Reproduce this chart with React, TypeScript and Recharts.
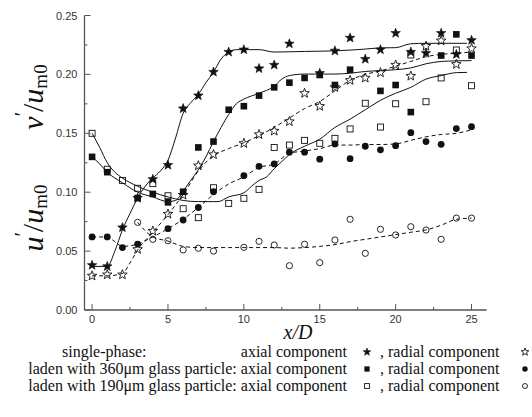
import React from "react";
import { ComposedChart, Line, Scatter, XAxis, YAxis } from "recharts";

// x/D stations
const xD = [0, 1, 2, 3, 4, 5, 6, 7, 8, 9, 10, 11, 12, 13, 14, 15, 16, 17, 18, 19, 20, 21, 22, 23, 24, 25];

// measured points (null = not visible)
const singleAxial = [0.038, 0.037, 0.070, 0.095, 0.111, 0.123, 0.171, 0.182, 0.202, 0.219, 0.221, 0.205, 0.208, 0.226, null, 0.201, 0.220, 0.231, 0.213, 0.221, 0.235, 0.219, 0.218, 0.235, 0.217, 0.229];
const singleRadial = [0.029, 0.030, 0.030, 0.0515, 0.067, 0.0815, 0.0976, 0.1225, 0.132, null, 0.1415, 0.149, 0.152, 0.160, 0.184, 0.173, 0.189, 0.195, 0.197, 0.2015, 0.208, 0.1986, 0.224, 0.2286, 0.2086, 0.222];
const p360Axial = [0.130, 0.117, null, 0.095, 0.0985, 0.0914, 0.1004, 0.138, 0.143, 0.170, 0.173, 0.182, 0.189, 0.193, 0.197, 0.1995, 0.191, 0.204, null, 0.186, 0.191, 0.168, null, 0.216, 0.234, 0.216];
const p360Radial = [0.062, 0.062, 0.053, 0.056, null, 0.069, 0.0764, 0.087, 0.1004, null, 0.114, 0.122, 0.124, 0.134, 0.134, 0.128, 0.141, 0.1285, 0.139, 0.136, 0.1395, 0.1505, 0.143, 0.1406, 0.154, 0.1556];
const p190Axial = [0.150, 0.1195, 0.110, 0.1033, 0.1073, 0.097, 0.086, 0.0784, 0.1038, 0.0905, 0.0948, 0.1024, 0.138, 0.140, 0.144, 0.1415, 0.1457, 0.1537, 0.1755, 0.1553, 0.1751, 0.2165, 0.1768, 0.197, 0.2207, 0.1904];
const p190Radial = [null, null, null, 0.0744, 0.060, 0.0588, 0.051, 0.0524, 0.050, null, 0.0532, 0.0583, 0.0552, 0.0376, 0.0558, 0.0402, 0.0594, 0.077, 0.0481, 0.0685, 0.0637, 0.0707, 0.0679, 0.060, 0.078, 0.078];

// fitted curves
const singleAxialFitX = [0, 1, 1.5, 2, 2.5, 3, 3.5, 4, 4.5, 5, 5.5, 6, 6.5, 7, 7.5, 8, 8.5, 9, 9.5, 10, 11, 12, 14, 16, 18, 19, 20, 21, 22, 24.7];
const singleAxialFit = [0.037, 0.037, 0.05, 0.068, 0.082, 0.095, 0.105, 0.112, 0.118, 0.127, 0.146, 0.167, 0.176, 0.183, 0.193, 0.202, 0.213, 0.219, 0.221, 0.221, 0.221, 0.219, 0.2195, 0.22, 0.2215, 0.2225, 0.2227, 0.226, 0.2264, 0.2264];
const singleRadialFitX = [0, 1, 2, 2.5, 3, 4, 5, 6, 7, 8, 9, 10, 11, 12, 13, 14, 15, 16, 17, 18, 19, 20, 21, 22, 23, 24, 25];
const singleRadialFit = [0.029, 0.029, 0.031, 0.04, 0.051, 0.066, 0.081, 0.098, 0.118, 0.131, 0.137, 0.142, 0.148, 0.155, 0.163, 0.171, 0.177, 0.186, 0.195, 0.2, 0.203, 0.207, 0.211, 0.215, 0.217, 0.218, 0.219];
const p360AxialFitX = [0, 0.5, 1, 2, 3, 4, 5, 5.5, 6, 6.5, 7, 7.5, 8, 8.5, 9, 9.5, 10, 11, 12, 12.5, 13, 14, 15, 16, 17, 18, 19, 20, 21, 22, 23, 24, 25];
const p360AxialFit = [0.13, 0.124, 0.117, 0.108, 0.1, 0.096, 0.092, 0.093, 0.101, 0.11, 0.119, 0.13, 0.143, 0.155, 0.166, 0.175, 0.179, 0.184, 0.19, 0.196, 0.199, 0.2003, 0.2003, 0.2003, 0.201, 0.2025, 0.2032, 0.204, 0.2055, 0.209, 0.211, 0.2115, 0.2117];
const p360RadialFitX = [0, 1, 1.5, 2, 3, 4, 5, 6, 7, 8, 9, 10, 11, 12, 13, 14, 15, 16, 17, 18, 19, 20, 21, 22, 23, 24, 25];
const p360RadialFit = [0.062, 0.062, 0.058, 0.054, 0.056, 0.062, 0.069, 0.077, 0.087, 0.098, 0.107, 0.113, 0.121, 0.124, 0.133, 0.135, 0.137, 0.14, 0.14, 0.1405, 0.1405, 0.141, 0.144, 0.147, 0.149, 0.15, 0.153];
const p190AxialFitX = [0, 0.5, 1, 1.5, 2, 3, 4, 5, 6, 7, 8, 8.3, 9, 10, 10.5, 11, 11.5, 12, 12.5, 13, 14, 15, 16, 17, 18, 19, 20, 21, 22, 23, 24, 24.7];
const p190AxialFit = [0.15, 0.138, 0.125, 0.117, 0.112, 0.105, 0.1, 0.096, 0.093, 0.092, 0.092, 0.092, 0.096, 0.0995, 0.105, 0.11, 0.113, 0.12, 0.126, 0.132, 0.139, 0.145, 0.155, 0.162, 0.17, 0.178, 0.184, 0.189, 0.196, 0.199, 0.2015, 0.2017];
const p190RadialFitX = [3, 4, 5, 6, 7, 8, 9, 10, 11, 12, 13, 14, 15, 16, 17, 18, 19, 20, 21, 22, 23, 24, 25];
const p190RadialFit = [0.0744, 0.062, 0.0585, 0.054, 0.053, 0.053, 0.053, 0.053, 0.053, 0.053, 0.0525, 0.053, 0.054, 0.0555, 0.058, 0.06, 0.062, 0.064, 0.066, 0.068, 0.072, 0.077, 0.078];

const xTicks = [0, 2.5, 5, 7.5, 10, 12.5, 15, 17.5, 20, 22.5, 25];
const yTicks = [0, 0.025, 0.05, 0.075, 0.1, 0.125, 0.15, 0.175, 0.2, 0.225, 0.25];

const legendRows = [
  { label: "single-phase:", axial: "axial component", kinds: ["star", "ostar"] },
  { label: "laden with 360\u03bcm glass particle:", axial: "axial component", kinds: ["square", "circle"] },
  { label: "laden with 190\u03bcm glass particle:", axial: "axial component", kinds: ["osquare", "ocircle"] },
];

const toPts = (xs: number[], ys: (number | null)[]) =>
  xs.map((x, i) => ({ x, y: ys[i] })).filter((p) => p.y != null);

const INK = "#111";
const AXIS = "#555";
const SANS = "Liberation Sans, Arial, sans-serif";
const SERIF = "Liberation Serif, Times New Roman, serif";
const TICK_MARGIN = 8;

function starPoints(cx: number, cy: number, r: number) {
  const pts: string[] = [];
  for (let i = 0; i < 10; i++) {
    const rad = i % 2 === 0 ? r : r * 0.42;
    const a = -Math.PI / 2 + (i * Math.PI) / 5;
    pts.push(`${cx + rad * Math.cos(a)},${cy + rad * Math.sin(a)}`);
  }
  return pts.join(" ");
}

function Marker({ kind, cx, cy, s = 1 }: { kind: string; cx: number; cy: number; s?: number }) {
  switch (kind) {
    case "star":
      return <polygon points={starPoints(cx, cy, 5 * s)} fill={INK} stroke={INK} strokeWidth={0.6} />;
    case "ostar":
      return <polygon points={starPoints(cx, cy, 5 * s)} fill="none" stroke={INK} strokeWidth={0.9} />;
    case "square":
      return <rect x={cx - 3.3 * s} y={cy - 3.3 * s} width={6.6 * s} height={6.6 * s} fill={INK} />;
    case "osquare":
      return <rect x={cx - 3 * s} y={cy - 3 * s} width={6 * s} height={6 * s} fill="none" stroke={INK} strokeWidth={0.9} />;
    case "circle":
      return <circle cx={cx} cy={cy} r={3.4 * s} fill={INK} />;
    default:
      return <circle cx={cx} cy={cy} r={3.1 * s} fill="none" stroke={INK} strokeWidth={0.9} />;
  }
}

const XTick = (props: any) => {
  const { x, y, payload } = props;
  const v = payload.value as number;
  const major = v % 5 === 0;
  const axisY = y - TICK_MARGIN;
  return (
    <g>
      <line x1={x} x2={x} y1={axisY} y2={axisY - (major ? 6 : 3)} stroke={AXIS} strokeWidth={1} />
      {major && (
        <text x={x} y={axisY + 12.5} textAnchor="middle" fontFamily={SANS} fontSize={11} fill="#333">
          {v}
        </text>
      )}
    </g>
  );
};

const YTick = (props: any) => {
  const { x, y, payload } = props;
  const v = payload.value as number;
  const major = Math.round(v * 1000) % 50 === 0;
  const axisX = x + TICK_MARGIN;
  return (
    <g>
      <line x1={axisX} x2={axisX + (major ? 6 : 3)} y1={y} y2={y} stroke={AXIS} strokeWidth={1} />
      {major && (
        <text x={axisX - 7} y={y + 4} textAnchor="end" fontFamily={SANS} fontSize={11} fill="#333">
          {v.toFixed(2)}
        </text>
      )}
    </g>
  );
};

const fits = [
  { xs: singleAxialFitX, ys: singleAxialFit, dash: undefined },
  { xs: singleRadialFitX, ys: singleRadialFit, dash: "4 3" },
  { xs: p360AxialFitX, ys: p360AxialFit, dash: undefined },
  { xs: p360RadialFitX, ys: p360RadialFit, dash: "4 3" },
  { xs: p190AxialFitX, ys: p190AxialFit, dash: undefined },
  { xs: p190RadialFitX, ys: p190RadialFit, dash: "4 3" },
];

const pointSets = [
  { ys: singleAxial, kind: "star" },
  { ys: singleRadial, kind: "ostar" },
  { ys: p360Axial, kind: "square" },
  { ys: p360Radial, kind: "circle" },
  { ys: p190Axial, kind: "osquare" },
  { ys: p190Radial, kind: "ocircle" },
];

export default function App() {
  return (
    <div style={{ position: "absolute", left: 0, top: 0, width: 532, height: 417, background: "#fff" }}>
      <ComposedChart width={532} height={417} margin={{ top: 15.5, right: 45.3, bottom: 77, left: 24.5 }}>
        <XAxis
          type="number"
          dataKey="x"
          domain={[-0.5, 26]}
          ticks={xTicks}
          interval={0}
          allowDataOverflow
          height={30}
          tickSize={0}
          tickMargin={TICK_MARGIN}
          tickLine={false}
          tick={<XTick />}
          axisLine={{ stroke: AXIS, strokeWidth: 1.3 }}
        />
        <YAxis
          type="number"
          dataKey="y"
          domain={[0, 0.25]}
          ticks={yTicks}
          interval={0}
          allowDataOverflow
          width={60}
          tickSize={0}
          tickMargin={TICK_MARGIN}
          tickLine={false}
          tick={<YTick />}
          axisLine={{ stroke: AXIS, strokeWidth: 1.3 }}
        />
        {fits.map((f, i) => (
          <Line
            key={"fit" + i}
            data={toPts(f.xs, f.ys)}
            dataKey="y"
            type="monotone"
            dot={false}
            stroke={INK}
            strokeWidth={1}
            strokeDasharray={f.dash}
            isAnimationActive={false}
          />
        ))}
        {pointSets.map((s, i) => (
          <Scatter
            key={"pts" + i}
            data={toPts(xD, s.ys)}
            dataKey="y"
            isAnimationActive={false}
            shape={(p: any) => <Marker kind={s.kind} cx={p.cx} cy={p.cy} />}
          />
        ))}
      </ComposedChart>
      <svg width={532} height={417} style={{ position: "absolute", left: 0, top: 0, pointerEvents: "none" }}>
        <g fontFamily={SERIF} fill={INK}>
          <text transform="rotate(-90 43 97)" x={43} y={97} textAnchor="middle" fontSize={30}>
            <tspan fontStyle="italic">v</tspan>
            <tspan fontSize={20} dy={-14}>{"\u2032"}</tspan>
            <tspan dy={14}>/</tspan>
            <tspan fontStyle="italic">u</tspan>
            <tspan fontSize={19} dy={4}>m0</tspan>
          </text>
          <text transform="rotate(-90 43 218)" x={43} y={218} textAnchor="middle" fontSize={30}>
            <tspan fontStyle="italic">u</tspan>
            <tspan fontSize={20} dy={-14}>{"\u2032"}</tspan>
            <tspan dy={14}>/</tspan>
            <tspan fontStyle="italic">u</tspan>
            <tspan fontSize={19} dy={4}>m0</tspan>
          </text>
          <text x={298} y={339} textAnchor="middle" fontSize={20} fontStyle="italic">
            x/D
          </text>
          {legendRows.map((r, i) => {
            const y = 357 + i * 17;
            return (
              <g key={i} fontSize={16}>
                {i === 0 ? (
                  <>
                    <text x={62} y={y}>{r.label}</text>
                    <text x={347} y={y} textAnchor="end">{r.axial}</text>
                  </>
                ) : (
                  <text x={347} y={y} textAnchor="end">{r.label + " " + r.axial}</text>
                )}
                <Marker kind={r.kinds[0]} cx={367} cy={y - 5} s={0.8} />
                <text x={380} y={y}>, radial component</text>
                <Marker kind={r.kinds[1]} cx={525} cy={y - 5} s={0.8} />
              </g>
            );
          })}
        </g>
      </svg>
    </div>
  );
}
